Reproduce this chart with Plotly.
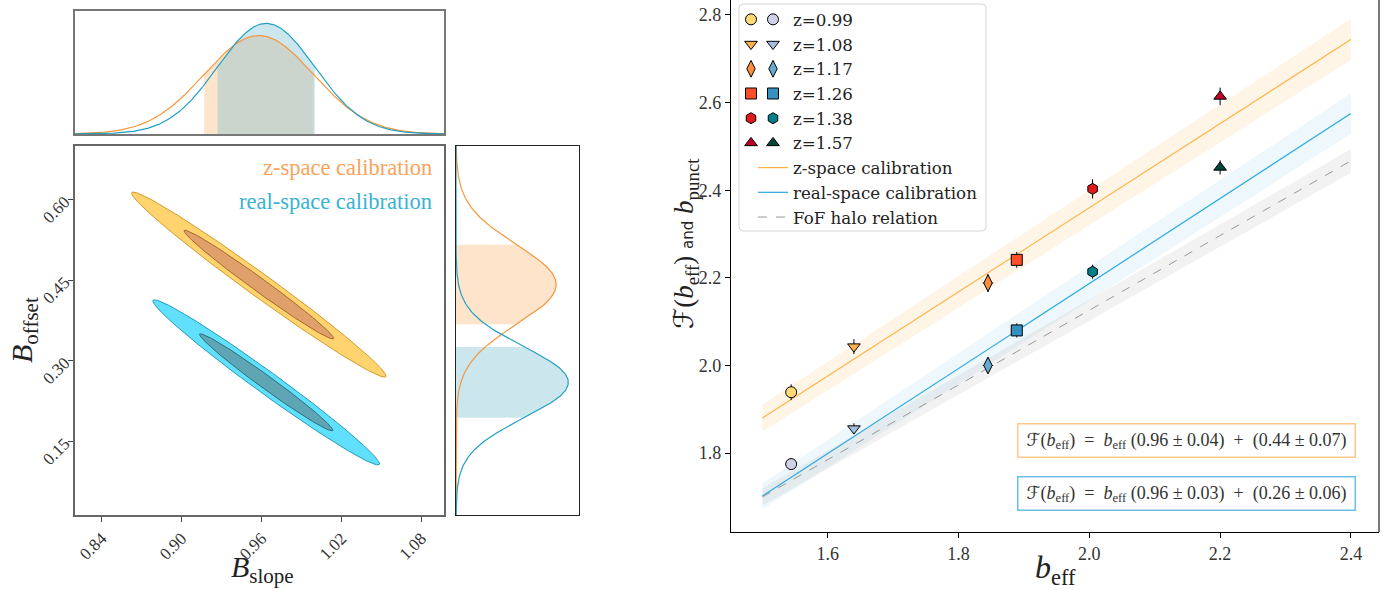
import numpy as np
import plotly.graph_objects as go

# ---------------- data ----------------
# posterior summary of the calibration parameters (B_slope, B_offset)
calib_names = ["z-space calibration", "real-space calibration"]
slope_mean = [0.958, 0.9635]
slope_sigma = [0.041, 0.0365]
offset_mean = [0.442, 0.260]
offset_sigma = [0.074, 0.066]
slope_offset_corr = [-0.988, -0.986]
contour_levels = [2.33, 1.37]  # outer, inner (in sigma units)

# effective bias measurements
z_labels = ["z=0.99", "z=1.08", "z=1.17", "z=1.26", "z=1.38", "z=1.57"]
b_eff = [1.544, 1.640, 1.845, 1.889, 2.005, 2.200]
F_zspace = [1.939, 2.043, 2.188, 2.241, 2.403, 2.614]
b_punct_real = [1.775, 1.856, 2.000, 2.080, 2.214, 2.452]
err_b_eff = [0.004, 0.004, 0.008, 0.005, 0.004, 0.004]
err_F_zspace = [0.018, 0.017, 0.020, 0.018, 0.022, 0.020]
err_b_punct = [0.010, 0.012, 0.016, 0.016, 0.016, 0.016]

# fitted relations
fit_names = ["z-space calibration", "real-space calibration", "FoF halo relation"]
fit_slope = [0.96, 0.97, 0.852]
fit_intercept = [0.44, 0.247, 0.422]
fit_b_range = [1.5, 2.4]
fit_halfwidth_lo = [0.031, 0.030, 0.020]
fit_halfwidth_hi = [0.047, 0.046, 0.027]

SCRIPT_F = "<span style='font-family:DejaVu Sans'>ℱ</span>"
eq_texts = [
    SCRIPT_F + "(<i>b</i><sub>eff</sub>)  =  <i>b</i><sub>eff</sub> (0.96 ± 0.04)  +  (0.44 ± 0.07)",
    SCRIPT_F + "(<i>b</i><sub>eff</sub>)  =  <i>b</i><sub>eff</sub> (0.96 ± 0.03)  +  (0.26 ± 0.06)",
]

# ---------------- styles ----------------
z_symbols = ["circle", "triangle-down", "diamond-tall", "square", "hexagon", "triangle-up"]
z_sizes = [11, 11, 12, 11, 11, 11]
z_colors = ["#fed976", "#feb24c", "#fd8d3c", "#fc4e2a", "#e31a1c", "#bd0026"]
r_colors = ["#d0d1e6", "#a6bddb", "#67a9cf", "#3690c0", "#02818a", "#014636"]

outer_fill = ["#ffd36e", "#60e0fc"]
outer_edge = ["#d29a2a", "#1f9cbf"]
inner_fill = ["#e0a06c", "#5fa5b4"]
inner_edge = ["#a8672c", "#2a6f80"]
curve_col = ["#f7963a", "#1fa0c2"]
shade_col = ["rgba(250,180,110,0.36)", "rgba(120,190,210,0.38)"]
text_col = ["#f9a35c", "#3ab2d4"]

line_col = ["#ffb347", "#2aa9e0", "#999999"]
band_col = ["rgba(255,170,60,0.12)", "rgba(90,190,225,0.10)", "rgba(150,150,150,0.12)"]
box_col = ["#fdc98a", "#6cc0e4"]

SERIF = "Liberation Serif"
W, H = 1395, 590

def px_x(p):
    return p / W

def px_y(p):
    return 1 - p / H

fig = go.Figure()

# ---------------- 2D contours ----------------
t = np.linspace(0, 2 * np.pi, 400)
for i in range(2):
    sx, sy, r = slope_sigma[i], offset_sigma[i], slope_offset_corr[i]
    cov = np.array([[sx * sx, r * sx * sy], [r * sx * sy, sy * sy]])
    L = np.linalg.cholesky(cov)
    for k, fc, ec in [(contour_levels[0], outer_fill[i], outer_edge[i]),
                      (contour_levels[1], inner_fill[i], inner_edge[i])]:
        pts = k * (L @ np.vstack([np.cos(t), np.sin(t)]))
        fig.add_trace(go.Scatter(
            x=slope_mean[i] + pts[0], y=offset_mean[i] + pts[1],
            mode="lines", fill="toself", fillcolor=fc,
            line=dict(color=ec, width=1), showlegend=False,
            hoverinfo="skip", xaxis="x", yaxis="y"))

# ---------------- marginals ----------------
def gauss(x, m, s):
    return np.exp(-0.5 * ((x - m) / s) ** 2) / (s * np.sqrt(2 * np.pi))

xs = np.linspace(0.82, 1.097, 500)
ys = np.linspace(0.013, 0.70, 500)
for i in range(2):
    lo, hi = slope_mean[i] - slope_sigma[i], slope_mean[i] + slope_sigma[i]
    xin = np.linspace(lo, hi, 200)
    fig.add_trace(go.Scatter(x=xin, y=gauss(xin, slope_mean[i], slope_sigma[i]),
                             mode="lines", line=dict(width=0), fill="tozeroy",
                             fillcolor=shade_col[i], showlegend=False,
                             hoverinfo="skip", xaxis="x2", yaxis="y2"))
for i in range(2):
    fig.add_trace(go.Scatter(x=xs, y=gauss(xs, slope_mean[i], slope_sigma[i]),
                             mode="lines", line=dict(color=curve_col[i], width=1.2),
                             showlegend=False, hoverinfo="skip", xaxis="x2", yaxis="y2"))
for i in range(2):
    lo, hi = offset_mean[i] - offset_sigma[i], offset_mean[i] + offset_sigma[i]
    yin = np.linspace(lo, hi, 200)
    fig.add_trace(go.Scatter(x=gauss(yin, offset_mean[i], offset_sigma[i]), y=yin,
                             mode="lines", line=dict(width=0), fill="tozerox",
                             fillcolor=shade_col[i], showlegend=False,
                             hoverinfo="skip", xaxis="x3", yaxis="y3"))
for i in range(2):
    fig.add_trace(go.Scatter(x=gauss(ys, offset_mean[i], offset_sigma[i]), y=ys,
                             mode="lines", line=dict(color=curve_col[i], width=1.2),
                             showlegend=False, hoverinfo="skip", xaxis="x3", yaxis="y3"))

top_max = max(1 / (s * np.sqrt(2 * np.pi)) for s in slope_sigma) * 1.112
right_max = max(1 / (s * np.sqrt(2 * np.pi)) for s in offset_sigma) * 1.095

# ---------------- right panel: bands and lines ----------------
bx = np.array(fit_b_range)
for j in range(3):
    yl = fit_slope[j] * bx + fit_intercept[j]
    hw = np.array([fit_halfwidth_lo[j], fit_halfwidth_hi[j]])
    fig.add_trace(go.Scatter(
        x=np.concatenate([bx, bx[::-1]]),
        y=np.concatenate([yl + hw, (yl - hw)[::-1]]),
        mode="lines", fill="toself", fillcolor=band_col[j], line=dict(width=0),
        showlegend=False, hoverinfo="skip", xaxis="x4", yaxis="y4"))
for j in range(3):
    yl = fit_slope[j] * bx + fit_intercept[j]
    fig.add_trace(go.Scatter(
        x=bx, y=yl, mode="lines", name=fit_names[j],
        line=dict(color=line_col[j], width=1.2 if j < 2 else 1,
                  dash="dash" if j == 2 else "solid"),
        legend="legend", legendrank=10 + j, xaxis="x4", yaxis="y4"))

for i in range(6):
    fig.add_trace(go.Scatter(
        x=[b_eff[i]], y=[F_zspace[i]], mode="markers", name=" ",
        marker=dict(symbol=z_symbols[i], size=z_sizes[i], color=z_colors[i],
                    line=dict(color="black", width=1)),
        error_x=dict(type="data", array=[err_b_eff[i]], color="black", thickness=1, width=0),
        error_y=dict(type="data", array=[err_F_zspace[i]], color="black", thickness=1, width=0),
        legend="legend2", legendrank=i + 1, xaxis="x4", yaxis="y4"))
    fig.add_trace(go.Scatter(
        x=[b_eff[i]], y=[b_punct_real[i]], mode="markers", name=z_labels[i],
        marker=dict(symbol=z_symbols[i], size=z_sizes[i], color=r_colors[i],
                    line=dict(color="black", width=1)),
        error_x=dict(type="data", array=[err_b_eff[i]], color="black", thickness=1, width=0),
        error_y=dict(type="data", array=[err_b_punct[i]], color="black", thickness=1, width=0),
        legend="legend", legendrank=i + 1, xaxis="x4", yaxis="y4"))

# ---------------- layout ----------------
tickfont = dict(family=SERIF, size=18, color="#333")
main_x = [px_x(75), px_x(444)]
main_y = [px_y(515), px_y(146)]

def blank_axis(**kw):
    d = dict(showticklabels=False, ticks="", showgrid=False, zeroline=False,
             showline=True, mirror=True, automargin=False)
    d.update(kw)
    return d

legend_font = dict(family="DejaVu Serif", size=16.7, color="#222")
layout = dict(
    width=W, height=H, margin=dict(l=0, r=0, t=0, b=0, autoexpand=False),
    paper_bgcolor="white", plot_bgcolor="white",
    xaxis=dict(domain=main_x, range=[0.82, 1.097], tickvals=[0.84, 0.90, 0.96, 1.02, 1.08],
               ticktext=["0.84", "0.90", "0.96", "1.02", "1.08"], tickangle=-45,
               ticks="outside", ticklen=5, tickcolor="#444",
               tickfont=dict(family=SERIF, size=17, color="#333"),
               showgrid=False, zeroline=False, showline=True, mirror=True, automargin=False,
               linecolor="#666", linewidth=1.6, anchor="y"),
    yaxis=dict(domain=main_y, range=[0.013, 0.70], tickvals=[0.15, 0.30, 0.45, 0.60],
               ticktext=["0.15", "0.30", "0.45", "0.60"], tickangle=-45,
               ticks="outside", ticklen=5, tickcolor="#444",
               tickfont=dict(family=SERIF, size=17, color="#333"),
               showgrid=False, zeroline=False, showline=True, mirror=True, automargin=False,
               linecolor="#666", linewidth=1.6, anchor="x"),
    xaxis2=blank_axis(domain=main_x, range=[0.82, 1.097], anchor="y2",
                      linecolor="#777", linewidth=2),
    yaxis2=blank_axis(domain=[px_y(134), px_y(11)], range=[0, top_max], anchor="x2",
                      linecolor="#777", linewidth=2),
    xaxis3=blank_axis(domain=[px_x(456), px_x(579)], range=[0, right_max], anchor="y3",
                      linecolor="#222", linewidth=1),
    yaxis3=blank_axis(domain=main_y, range=[0.013, 0.70], anchor="x3",
                      linecolor="#222", linewidth=1),
    xaxis4=dict(domain=[px_x(731), px_x(1379)], range=[1.452, 2.443], dtick=0.2, tick0=1.6,
                tickformat=".1f", ticks="outside", ticklen=5, tickcolor="black",
                tickfont=tickfont, showgrid=False, zeroline=False, automargin=False,
                showline=True, linecolor="black", linewidth=1.3, anchor="y4"),
    yaxis4=dict(domain=[px_y(532), 1.0], range=[1.62, 2.834], dtick=0.2, tick0=1.8,
                tickformat=".1f", ticks="outside", ticklen=5, tickcolor="black",
                tickfont=tickfont, showgrid=False, zeroline=False, automargin=False,
                showline=True, linecolor="black", linewidth=1.3, anchor="x4"),
    legend=dict(x=px_x(753), y=px_y(2), xanchor="left", yanchor="top",
                bgcolor="rgba(0,0,0,0)", borderwidth=0, font=legend_font,
                tracegroupgap=0),
    legend2=dict(x=px_x(731), y=px_y(2), xanchor="left", yanchor="top",
                 bgcolor="rgba(0,0,0,0)", borderwidth=0, font=legend_font,
                 tracegroupgap=0),
)
fig.update_layout(**layout)

# legend frame (rounded)
x0, x1, y0, y1 = px_x(739), px_x(986), px_y(231), px_y(4)
rx, ry = 4 / W, 4 / H
path = (f"M {x0+rx},{y0} L {x1-rx},{y0} Q {x1},{y0} {x1},{y0+ry} "
        f"L {x1},{y1-ry} Q {x1},{y1} {x1-rx},{y1} L {x0+rx},{y1} "
        f"Q {x0},{y1} {x0},{y1-ry} L {x0},{y0+ry} Q {x0},{y0} {x0+rx},{y0} Z")
fig.add_shape(type="path", path=path, xref="paper", yref="paper",
              fillcolor="rgba(255,255,255,0.85)", line=dict(color="#d6d6d6", width=1),
              layer="above")
# grey right spine of right panel
fig.add_shape(type="line", xref="x4 domain", yref="y4 domain", x0=1, x1=1, y0=0, y1=1,
              line=dict(color="#777", width=2))

ann = []
# labels in the corner plot
for i, yy in enumerate([167, 201]):
    ann.append(dict(text=calib_names[i], x=px_x(434), y=px_y(yy), xref="paper", yref="paper",
                    xanchor="right", yanchor="middle", showarrow=False,
                    font=dict(family=SERIF, size=22.5, color=text_col[i])))
ann.append(dict(text="<i>B</i><sub>slope</sub>", x=px_x(262), y=px_y(569), xref="paper",
                yref="paper", showarrow=False, xanchor="center", yanchor="middle",
                font=dict(family=SERIF, size=30, color="#222")))
ann.append(dict(text="<i>B</i><sub>offset</sub>", x=px_x(24), y=px_y(330), xref="paper",
                yref="paper", showarrow=False, textangle=-90, xanchor="center", yanchor="middle",
                font=dict(family=SERIF, size=30, color="#222")))
ann.append(dict(text="<i>b</i><sub>eff</sub>", x=px_x(1055), y=px_y(569), xref="paper",
                yref="paper", showarrow=False, xanchor="center", yanchor="middle",
                font=dict(family=SERIF, size=32, color="#222")))
ann.append(dict(text=SCRIPT_F + "(<i>b</i><sub>eff</sub>) <span style='font-family:DejaVu Sans;font-size:15px'>and</span> <i>b</i><sub>punct</sub>",
                x=px_x(686), y=px_y(244), xref="paper", yref="paper", showarrow=False,
                textangle=-90, xanchor="center", yanchor="middle",
                font=dict(family=SERIF, size=27, color="#222")))
for i, yy in enumerate([440.5, 493]):
    ann.append(dict(text=eq_texts[i], x=px_x(1186.5), y=px_y(yy), xref="paper", yref="paper",
                    showarrow=False, xanchor="center", yanchor="middle",
                    width=336, height=32, borderpad=0, bgcolor="white",
                    bordercolor=box_col[i], borderwidth=1.5,
                    font=dict(family=SERIF, size=18, color="#333")))
fig.update_layout(annotations=ann)

fig.write_html("out.html", config={"displayModeBar": False},
               post_script="document.body.style.margin='0';document.body.style.overflow='hidden';")
